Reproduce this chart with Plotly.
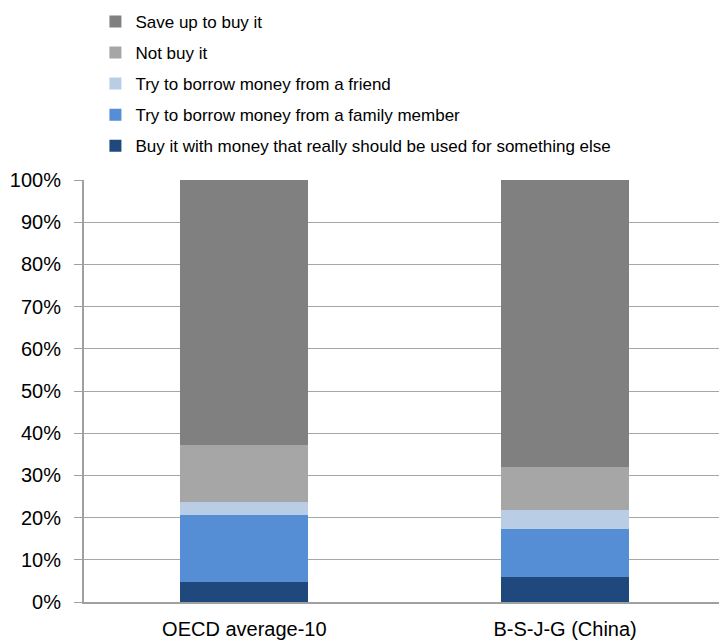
import plotly.graph_objects as go

# Survey groups on the x axis
categories = ["OECD average-10", "B-S-J-G (China)"]

# Share of students (%) choosing each option, stacked bottom to top
buy_other_money = [4.7, 6.0]
borrow_family = [15.8, 11.4]
borrow_friend = [3.3, 4.5]
not_buy = [13.3, 10.0]
save_up = [62.9, 68.1]

series = [
    ("Buy it with money that really should be used for something else", buy_other_money, "#1F497D"),
    ("Try to borrow money from a family member", borrow_family, "#558ED5"),
    ("Try to borrow money from a friend", borrow_friend, "#B9CDE5"),
    ("Not buy it", not_buy, "#A6A6A6"),
    ("Save up to buy it", save_up, "#808080"),
]

y_ticks = list(range(0, 101, 10))

FONT = "Liberation Sans Narrow, Arial Narrow, Liberation Sans, Arial, sans-serif"

fig = go.Figure()
for i, (name, vals, color) in enumerate(series):
    fig.add_trace(go.Bar(
        x=categories, y=vals, name=name,
        legendgroup=name,
        legendrank=1000 - i,  # top segment listed first in the legend
        marker=dict(color=color, line=dict(width=0)),
        width=0.4,
    ))

fig.update_layout(
    width=719, height=643,
    barmode="stack",
    plot_bgcolor="white", paper_bgcolor="white",
    margin=dict(l=84, r=0, t=180, b=41),
    font=dict(family=FONT, size=18, color="#000000"),
    showlegend=True,
    legend=dict(
        traceorder="grouped",
        x=0.018, xanchor="left", xref="paper",
        y=0.994, yanchor="top", yref="container",
        font=dict(family=FONT, size=17, color="#000000"),
        bgcolor="rgba(0,0,0,0)",
        tracegroupgap=6,
    ),
)

fig.update_xaxes(
    range=[-0.5, 1.48],
    showline=True, linecolor="#A0A0A0", linewidth=2,
    showgrid=False, ticks="",
    ticklabelstandoff=8,
    tickfont=dict(family=FONT, size=20),
)
fig.update_yaxes(
    range=[0, 100],
    tickvals=y_ticks, ticktext=[f"{v}%" for v in y_ticks],
    showgrid=True, gridcolor="#A6A6A6", gridwidth=1,
    showline=True, linecolor="#A0A0A0", linewidth=2,
    ticks="outside", ticklen=8, tickcolor="#A0A0A0", tickwidth=1,
    ticklabelstandoff=9,
    tickfont=dict(family=FONT, size=20),
    zeroline=False,
)

fig.write_html("out.html")
